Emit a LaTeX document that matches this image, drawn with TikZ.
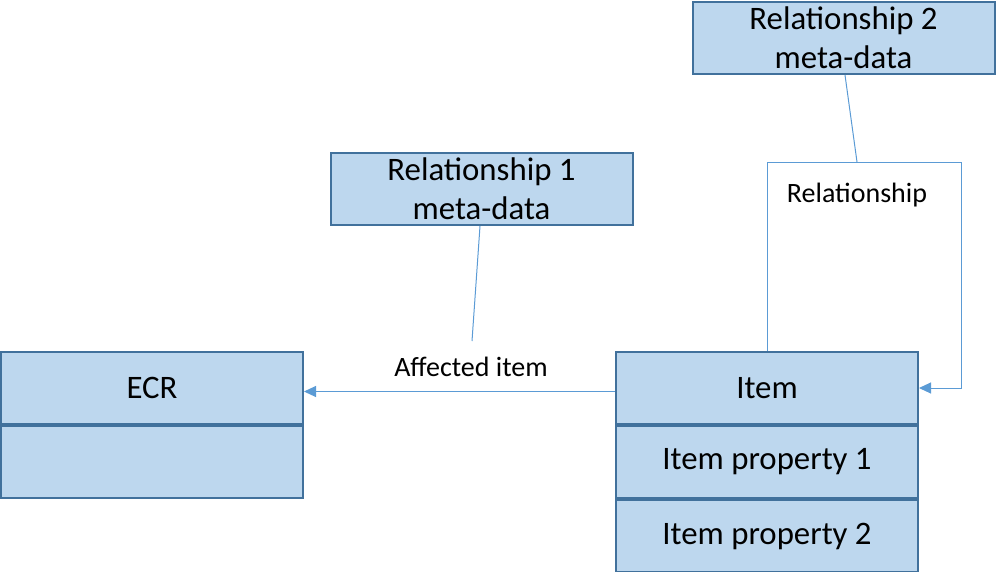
\documentclass[tikz,border=0pt]{standalone}
\usepackage{fontspec}
\setmainfont{Carlito}
\usetikzlibrary{arrows.meta}
\definecolor{boxfill}{HTML}{BDD7EE}
\definecolor{boxline}{HTML}{41719C}
\definecolor{conn}{HTML}{5B9BD5}
\begin{document}
\begin{tikzpicture}[x=1pt,y=-1pt,
  umlbox/.style={draw=boxline, fill=boxfill, line width=2pt, minimum width=302pt, minimum height=72pt, inner sep=0pt, align=center, font=\fontsize{32.8}{39}\selectfont},
  lbl/.style={inner sep=0pt, font=\fontsize{28}{32}\selectfont},
  connector/.style={draw=conn, line width=1pt},
  arr/.style={connector, -{Triangle[length=12pt,width=11pt]}}]
\useasboundingbox (0,0) rectangle (996,571);
% ECR
\node[umlbox] (ecr) at (152,388) {ECR};
\node[umlbox, anchor=north] (ecrb) at (ecr.south) {};
% Item
\node[umlbox] (item) at (767,388) {Item};
\node[umlbox, anchor=north] (prop1) at (item.south) {Item property 1};
\node[umlbox, anchor=north] (prop2) at (prop1.south) {Item property 2};
% meta-data boxes
\node[umlbox] (rel1) at (481.5,189) {Relationship 1\\meta-data};
\node[umlbox] (rel2) at (843.5,38) {Relationship 2\\meta-data};
% labels
\node[lbl] (aff) at (471,367) {Affected item};
\node[lbl] (rell) at (857,195) {Relationship};
% coordinates of the loop
\coordinate (lt) at (767,162);
\coordinate (rt) at (961,162);
\coordinate (mid) at (857,162);
\coordinate (r1foot) at (472,341);
% connectors
\draw[arr] ([yshift=-3.5pt]item.west) -- ([yshift=-3.5pt]ecr.east);
\draw[arr] (item.north) -- (lt) -- (rt) |- (item.east);
\draw[connector] ([xshift=-1.5pt]rel1.south) -- (r1foot);
\draw[connector] ([xshift=1.5pt]rel2.south) -- (mid);
\end{tikzpicture}
\end{document}
